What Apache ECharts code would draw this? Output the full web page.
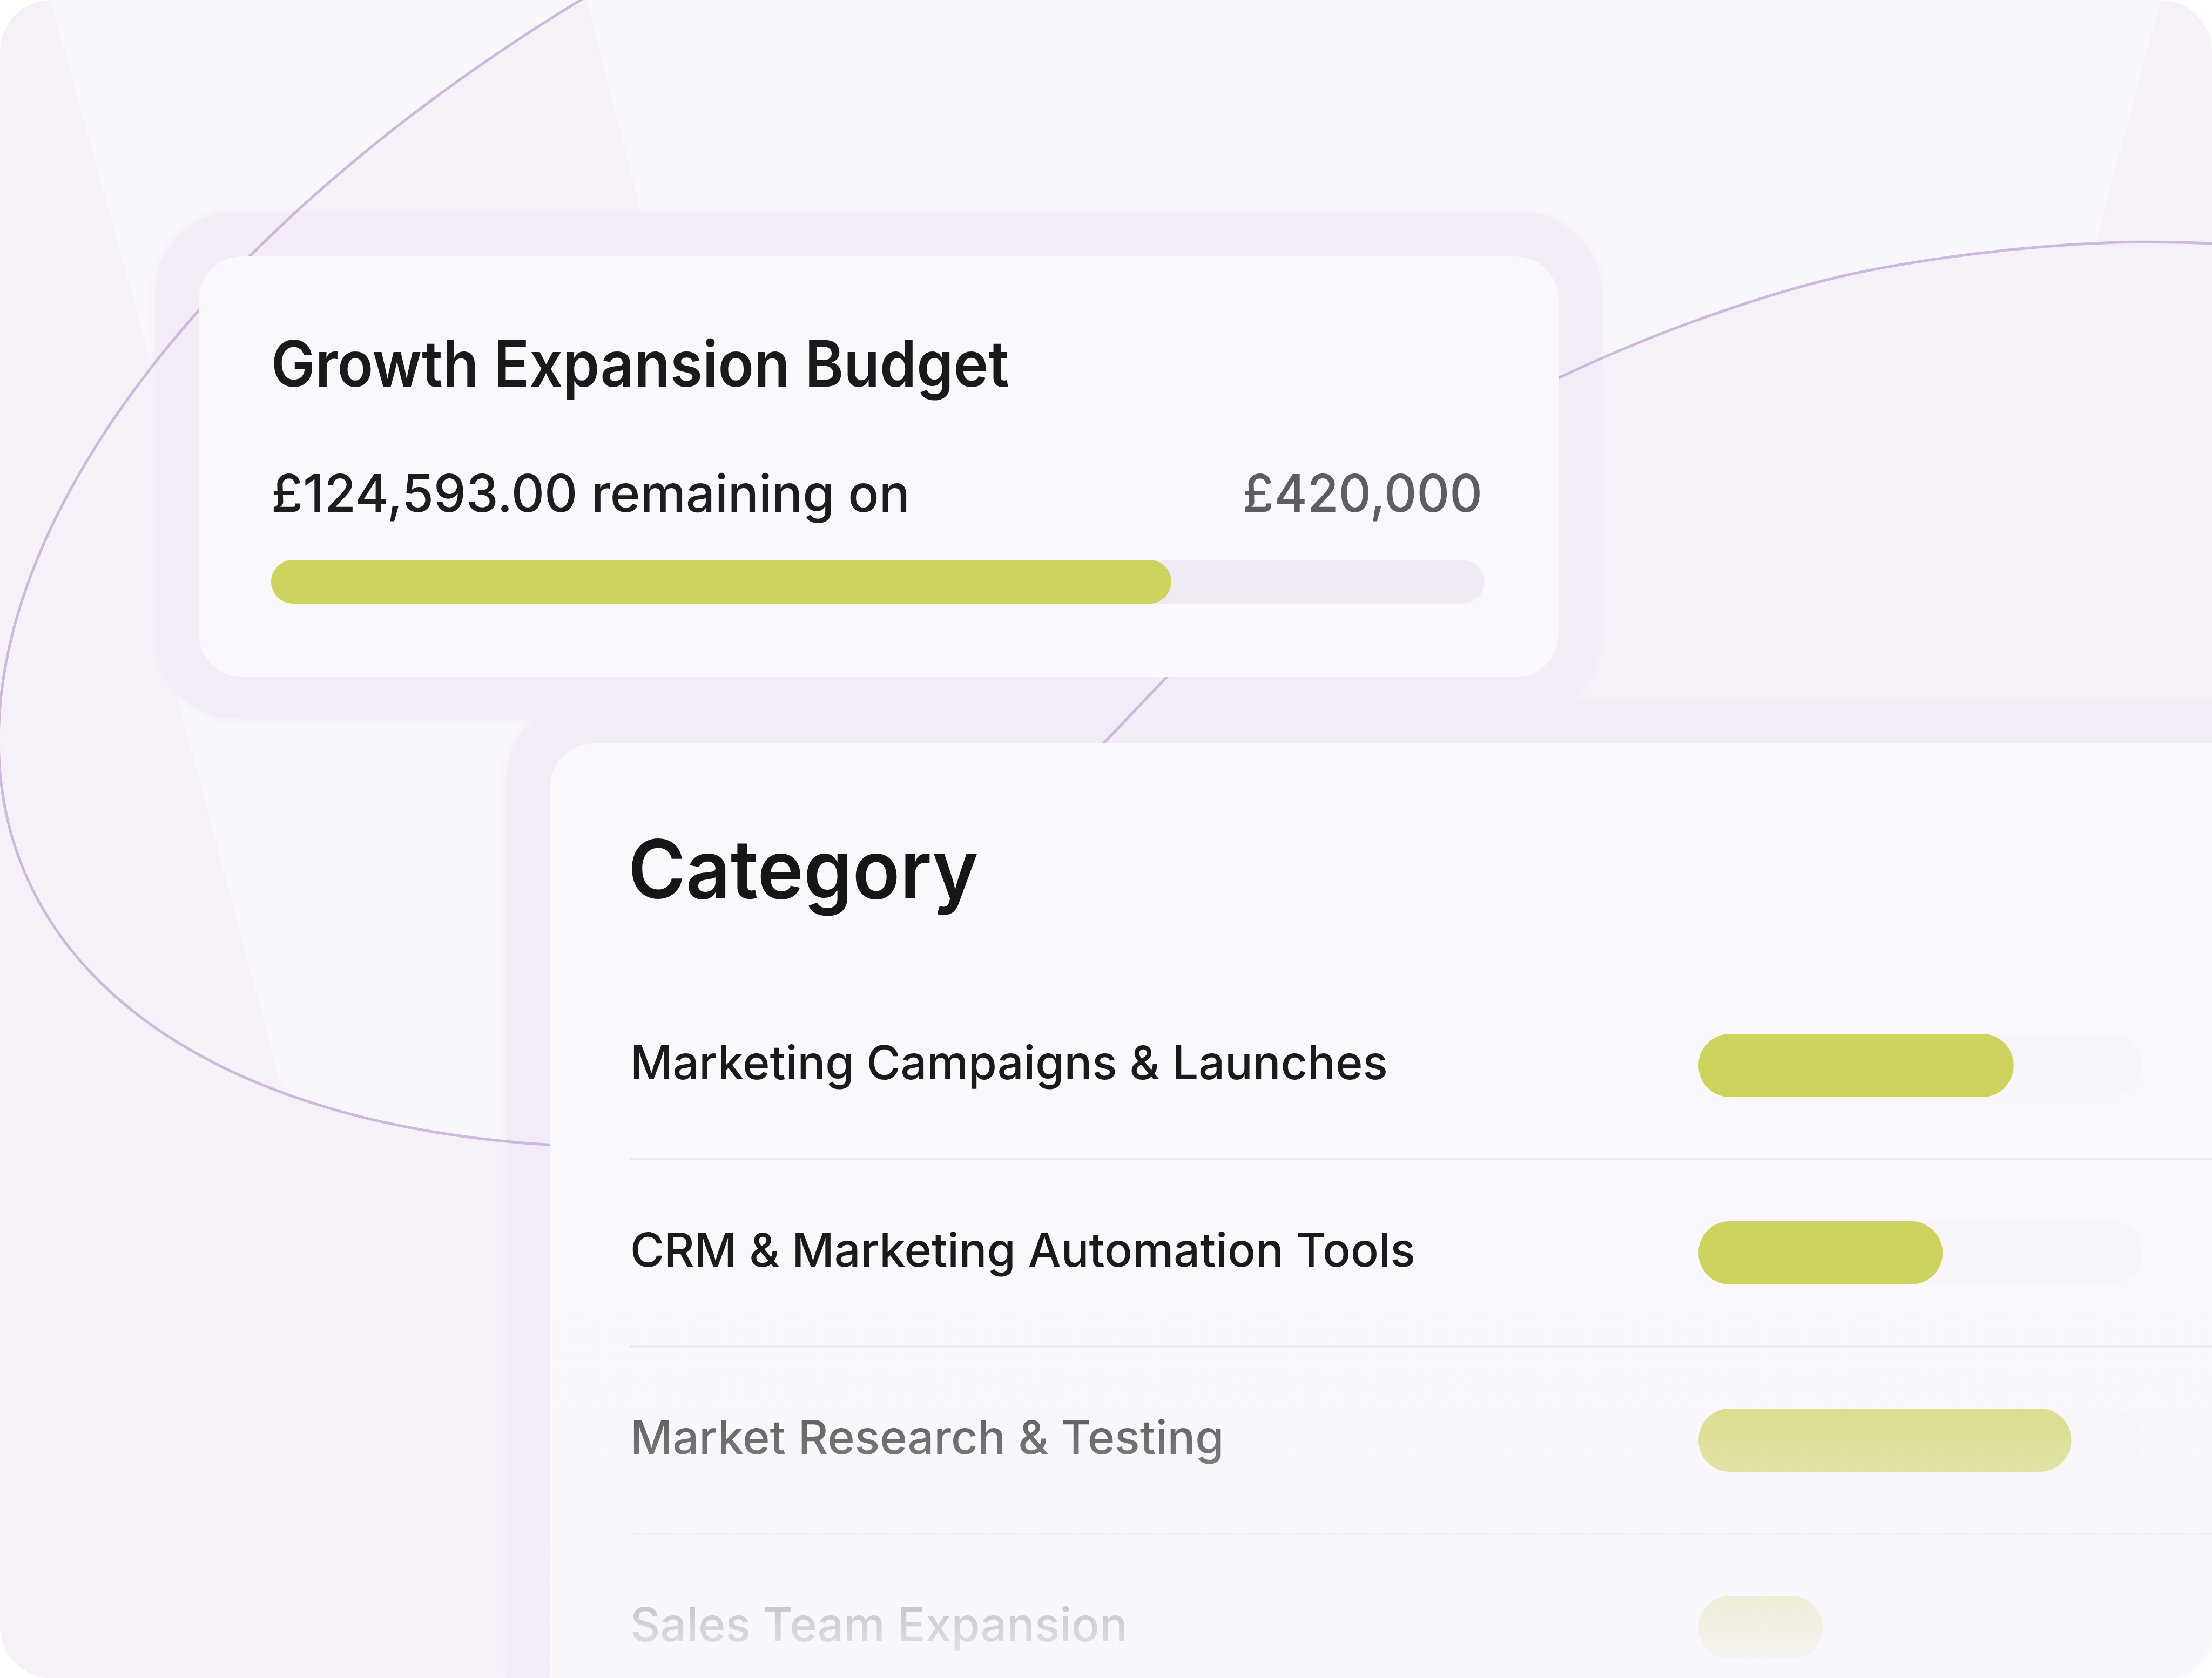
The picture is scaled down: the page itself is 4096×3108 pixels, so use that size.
<!DOCTYPE html>
<html>
<head>
<meta charset="utf-8">
<title>Growth Expansion Budget</title>
<style>
  html, body { margin: 0; padding: 0; background: #ffffff; }
  #main { width: 4096px; height: 3108px; }
</style>
</head>
<body>
<div id="main"></div>
<script src="https://cdn.jsdelivr.net/npm/echarts@6.0.0/dist/echarts.min.js"></script>
<script>
// budget card
var budgetTitle = ['Growth Expansion Budget'];
var budgetRemaining = [124593.00];
var budgetTotal = [420000];
var budgetSpent = [311600];

// category card
var categoryTitle = ['Category'];
var categories = [
  'Marketing Campaigns & Launches',
  'CRM & Marketing Automation Tools',
  'Market Research & Testing',
  'Sales Team Expansion'
];
var categoryUsed = [71, 55, 84, 28]; // % of each allocation
var categoryMax = [100];

function money(v, dec) {
  return '£' + v.toLocaleString('en-GB', { minimumFractionDigits: dec, maximumFractionDigits: dec });
}

var FONT = 'Inter, "Noto Sans", sans-serif';
var BG_LIGHT = '#F9F7FC';
var BG_DARK = '#F6F1F9';
var HALO = '#F3EBF7';
var CARD = '#FAF8FD';
var LINE = '#CDB9DC';
var LIME = '#CED35F';

// points picked off the big background ellipse (left part) and the right swoosh
var ellipseSeen = [[1083,0],[918,96],[765,210],[612,332],[493,450],[367,579],[280,673],[100,972],
  [5,1300],[42,1601],[140,1784],[281,1906],[421,1979],[560,2030],[772,2086],[1017,2125]];
var rightArc = [[2700,800],[2886,700],[3134,596],[3396,515],[3657,470],[3918,449],[4140,452]];

// --- fit a conic  Ax2+Bxy+Cy2+Dx+Ey = 1  through the ellipse points ---
function solve(M, v) {
  var n = v.length, i, r, k;
  for (i = 0; i < n; i++) M[i] = M[i].concat([v[i]]);
  for (var c = 0; c < n; c++) {
    var piv = c;
    for (r = c + 1; r < n; r++) if (Math.abs(M[r][c]) > Math.abs(M[piv][c])) piv = r;
    var t = M[c]; M[c] = M[piv]; M[piv] = t;
    for (r = 0; r < n; r++) {
      if (r === c) continue;
      var f = M[r][c] / M[c][c];
      for (k = c; k <= n; k++) M[r][k] -= f * M[c][k];
    }
  }
  return M.map(function (row, j) { return row[n] / row[j]; });
}

function ellipseRun() {
  var N = [], rhs = [0, 0, 0, 0, 0], i, j;
  for (i = 0; i < 5; i++) N.push([0, 0, 0, 0, 0]);
  ellipseSeen.forEach(function (p) {
    var x = p[0] / 1000, y = p[1] / 1000;
    var row = [x * x, x * y, y * y, x, y];
    for (i = 0; i < 5; i++) {
      rhs[i] += row[i];
      for (j = 0; j < 5; j++) N[i][j] += row[i] * row[j];
    }
  });
  var k = solve(N, rhs), A = k[0], B = k[1], C = k[2], D = k[3], E = k[4];
  var x0 = 1.3, y0 = 1.1, pts = [];
  for (var deg = -70; deg >= -268; deg -= 0.5) {
    var a = deg * Math.PI / 180, c = Math.cos(a), s = Math.sin(a);
    var qa = A * c * c + B * c * s + C * s * s;
    var qb = 2 * A * x0 * c + B * (x0 * s + y0 * c) + 2 * C * y0 * s + D * c + E * s;
    var qc = A * x0 * x0 + B * x0 * y0 + C * y0 * y0 + D * x0 + E * y0 - 1;
    var disc = qb * qb - 4 * qa * qc;
    if (disc < 0) continue;
    var sq = Math.sqrt(disc);
    var rr = Math.max((-qb + sq) / (2 * qa), (-qb - sq) / (2 * qa));
    if (!(rr > 0)) continue;
    var px = (x0 + rr * c) * 1000, py = (y0 + rr * s) * 1000;
    pts.push([px, py]);
  }
  // longest stretch lying on the left part of the picture
  var best = [], cur = [];
  pts.forEach(function (p) {
    if (p[0] <= 1200 && p[1] >= -80) { cur.push(p); }
    else { if (cur.length > best.length) best = cur; cur = []; }
  });
  if (cur.length > best.length) best = cur;
  return best;
}

var arc = ellipseRun();

// light patch above the ellipse, left of the first big wedge
var topPatch = [[92,-5]];
var started = false;
for (var i = 0; i < arc.length; i++) {
  var p = arc[i];
  if (p[1] < 0) continue;
  if (!started) { topPatch.push([p[0] + 12, -5]); started = true; }
  if (p[0] < 92 + 0.28 * p[1]) break;
  topPatch.push(p);
}
// light patch inside the ellipse, below the first card
var lowPatch = [[320,1260],[1030,1260]];
arc.filter(function (p) { return p[1] > 1900 && p[0] >= 519 && p[0] <= 1030; })
  .reverse().forEach(function (p) { lowPatch.push(p); });

function curve(pts, z) {
  var out = [];
  for (var i = 0; i < pts.length - 1; i++) {
    var p0 = pts[Math.max(i - 1, 0)], p1 = pts[i], p2 = pts[i + 1], p3 = pts[Math.min(i + 2, pts.length - 1)];
    out.push({
      type: 'bezierCurve', z: z,
      shape: {
        x1: p1[0], y1: p1[1], x2: p2[0], y2: p2[1],
        cpx1: p1[0] + (p2[0] - p0[0]) / 6, cpy1: p1[1] + (p2[1] - p0[1]) / 6,
        cpx2: p2[0] - (p3[0] - p1[0]) / 6, cpy2: p2[1] - (p3[1] - p1[1]) / 6
      },
      style: { stroke: LINE, lineWidth: 5, fill: null, lineCap: 'round' }
    });
  }
  return out;
}

var chart = echarts.init(document.getElementById('main'));

var graphics = [
  { type: 'rect', z: 0, shape: { x: 0, y: 0, width: 4096, height: 3108, r: 96 }, style: { fill: BG_DARK } },
  { type: 'polygon', z: 1, shape: { points: topPatch }, style: { fill: BG_LIGHT } },
  { type: 'polygon', z: 1, shape: { points: lowPatch }, style: { fill: BG_LIGHT } },
  { type: 'polygon', z: 1, shape: { points: [[1087,0],[4001,0],[3880,451],[3657,470],[3396,515],[3134,596],[2886,700],[2600,850],[1187,392]] }, style: { fill: BG_LIGHT } },

  { type: 'rect', z: 2, shape: { x: 287, y: 392, width: 2678, height: 940, r: 150 }, style: { fill: HALO, shadowBlur: 20, shadowColor: HALO } },
  { type: 'rect', z: 2, shape: { x: 937, y: 1295, width: 3159, height: 1813, r: [150, 0, 96, 0] }, style: { fill: HALO, shadowBlur: 20, shadowColor: HALO } },

  { type: 'polyline', z: 3, shape: { points: arc }, style: { stroke: LINE, lineWidth: 5, fill: null } },
  { type: 'line', z: 3, shape: { x1: 1950, y1: 1475, x2: 2250, y2: 1160 }, style: { stroke: LINE, lineWidth: 5 } },

  { type: 'rect', z: 4, shape: { x: 368, y: 475, width: 2518, height: 779, r: 80 }, style: { fill: CARD } },
  { type: 'rect', z: 4, shape: { x: 1019, y: 1377, width: 3077, height: 1731, r: [80, 0, 96, 0] }, style: { fill: CARD } },

  { type: 'text', z: 6, x: 502, y: 681, scaleX: 0.925, style: { text: budgetTitle[0], fill: '#1A1A1A', font: '600 118px ' + FONT, align: 'left', verticalAlign: 'middle', textAlign: 'left', textVerticalAlign: 'middle' } },
  { type: 'text', z: 6, x: 502, y: 919, scaleX: 0.99, style: { text: money(budgetRemaining[0], 2) + ' remaining on', fill: '#1D1D1F', font: '500 96px ' + FONT, align: 'left', verticalAlign: 'middle', textAlign: 'left', textVerticalAlign: 'middle' } },
  { type: 'text', z: 6, x: 2745, y: 919, scaleX: 0.98, style: { text: money(budgetTotal[0], 0), fill: '#5E5D63', font: '500 96px ' + FONT, align: 'right', verticalAlign: 'middle', textAlign: 'right', textVerticalAlign: 'middle' } },
  { type: 'text', z: 6, x: 1163, y: 1619, scaleX: 0.965, style: { text: categoryTitle[0], fill: '#161616', font: '600 150px ' + FONT, align: 'left', verticalAlign: 'middle', textAlign: 'left', textVerticalAlign: 'middle' } },

  // the list fades out towards the bottom of the card
  { type: 'rect', z: 8, shape: { x: 1019, y: 2380, width: 3077, height: 728, r: [0, 0, 96, 0] },
    style: { fill: { type: 'linear', x: 0, y: 0, x2: 0, y2: 1, colorStops: [
      { offset: 0, color: 'rgba(248,245,251,0)' },
      { offset: 1, color: 'rgba(248,245,251,0.97)' }
    ] } } }
].concat(curve(rightArc, 3));

var option = {
  animation: false,
  graphic: { elements: graphics },
  grid: [
    { left: 502, top: 1036, width: 2247, height: 83, outerBoundsMode: 'none' },
    { left: 3145, top: 1800, width: 822, height: 1388, outerBoundsMode: 'none' },
    { left: 1167, top: 1800, width: 2929, height: 1388, outerBoundsMode: 'none' }
  ],
  xAxis: [
    { gridIndex: 0, type: 'value', min: 0, max: budgetTotal[0], show: false },
    { gridIndex: 1, type: 'value', min: 0, max: categoryMax[0], show: false },
    { gridIndex: 2, type: 'value', min: 0, max: 1, show: false }
  ],
  yAxis: [
    { gridIndex: 0, type: 'category', data: budgetTitle, show: false },
    { gridIndex: 1, type: 'category', data: categories, inverse: true, show: false },
    {
      gridIndex: 2, type: 'category', data: categories, inverse: true, z: 5,
      axisLine: { show: false }, axisTick: { show: false },
      axisLabel: {
        inside: true, margin: 0, align: 'left', padding: [0, 0, 16, 0],
        fontFamily: FONT, fontSize: 86, fontWeight: 500, color: '#1A1A1A'
      },
      splitLine: {
        show: true,
        interval: function (index) { return index > 0; },
        lineStyle: { color: '#EEE8F2', width: 4 }
      }
    }
  ],
  series: [
    {
      type: 'bar', xAxisIndex: 0, yAxisIndex: 0, z: 5,
      data: budgetSpent, barWidth: 81,
      itemStyle: { color: LIME, borderRadius: 41 },
      showBackground: true,
      backgroundStyle: { color: '#F0EAF4', borderRadius: 41 }
    },
    {
      type: 'bar', xAxisIndex: 1, yAxisIndex: 1, z: 5,
      data: categoryUsed, barWidth: 117,
      itemStyle: { color: LIME, borderRadius: 58 },
      showBackground: true,
      backgroundStyle: { color: '#F7F4FA', borderRadius: 58 }
    }
  ]
};

chart.setOption(option);
</script>
</body>
</html>
